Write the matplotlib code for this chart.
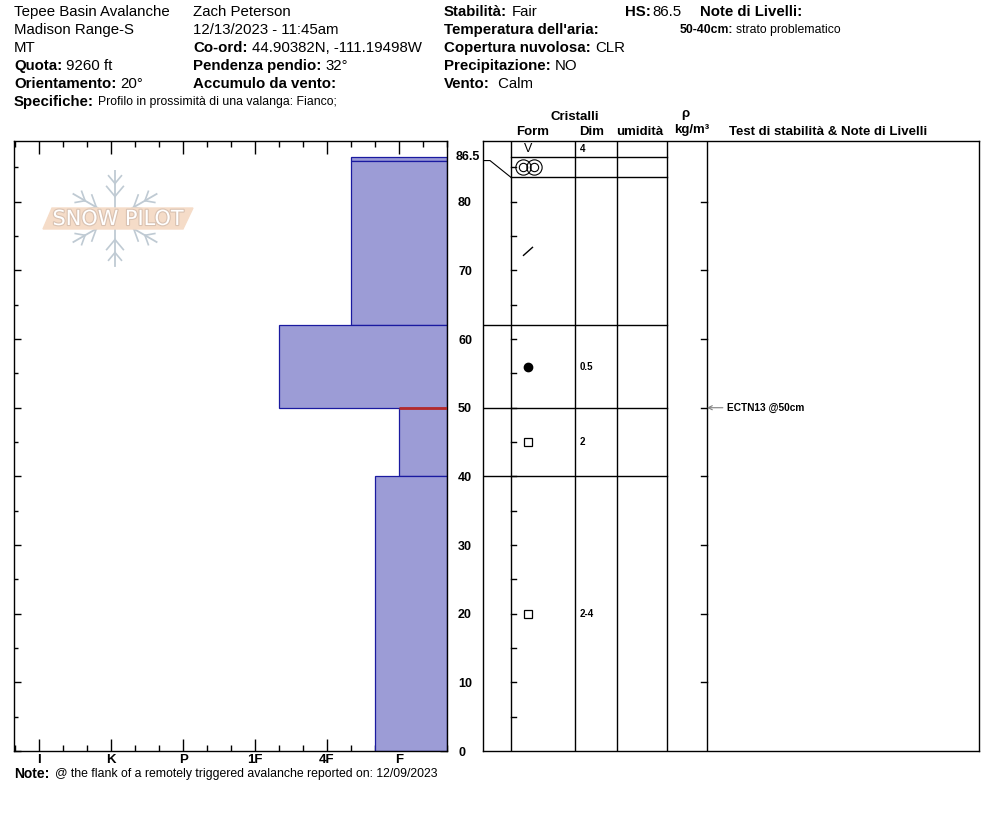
import matplotlib
matplotlib.use("Agg")
import matplotlib.pyplot as plt
import numpy as np
from matplotlib.patches import Polygon
import matplotlib.patheffects as pe

plt.rcParams["font.family"] = ["Liberation Sans", "DejaVu Sans"]

# --- snow layers (depth in cm, hardness F=1 ... I=6) ---
layer_top = [86.5, 86.0, 62.0, 50.0, 40.0]
layer_bottom = [86.0, 62.0, 50.0, 40.0, 0.0]
layer_hardness = [1.67, 1.67, 2.67, 1.0, 1.33]
hardness_labels = ["I", "K", "P", "1F", "4F", "F"]
hardness_values = [6, 5, 4, 3, 2, 1]
problem_depth = 50.0
snow_height = 86.5

# --- crystal table rows (drawn positions in cm) ---
table_bounds = [86.5, 83.55, 62.0, 50.0, 40.0, 0.0]
grain_forms = ["SH", "MFcr", "DF", "RG", "FC", "FC"]
grain_sizes = ["4", "", "", "0.5", "2", "2-4"]

# --- stability tests ---
test_depths = [50.0]
test_labels = ["ECTN13 @50cm"]

W, H = 994, 840


def fx(px):
    return px / W


def fy(py):
    return 1 - py / H


fig = plt.figure(figsize=(W / 100, H / 100), dpi=100)

Y_TOP = 88.85
H_RIGHT = 1 / 3
H_LEFT = 6.35

# === Left: hardness profile ===
ax = fig.add_axes([fx(14), fy(751), (447 - 14) / W, (751 - 141) / H])
ax.set_xlim(H_LEFT, H_RIGHT)
ax.set_ylim(0, Y_TOP)

for top, bot, hd in zip(layer_top, layer_bottom, layer_hardness):
    ax.barh(bot, hd - H_RIGHT, left=H_RIGHT, height=top - bot, align="edge",
            color="#9c9cd6", edgecolor="#1a1aa0", linewidth=0.9, zorder=2)

# problem layer marker
idx = layer_top.index(problem_depth)
ax.plot([H_RIGHT, layer_hardness[idx]], [problem_depth, problem_depth],
        color="#b52a2a", linewidth=2, zorder=3, solid_capstyle="butt")

ax.set_xticks(hardness_values)
ax.set_xticklabels(hardness_labels, fontsize=9.5, fontweight="bold")
ax.set_xticks(np.arange(H_RIGHT, H_LEFT, 1 / 3), minor=True)
ax.set_yticks(np.arange(0, 81, 10))
ax.set_yticks(np.arange(5, 90, 10), minor=True)
ax.tick_params(axis="x", which="major", direction="in", length=9, width=1,
               top=True, bottom=True, pad=2)
ax.tick_params(axis="x", which="minor", direction="in", length=4, width=1,
               top=True, bottom=True)
ax.tick_params(axis="y", which="major", direction="in", length=5, width=1,
               left=True, right=True, labelleft=False, labelright=True, pad=8)
ax.tick_params(axis="y", which="minor", direction="in", length=3, width=1,
               left=True, right=True)
for lab in ax.get_yticklabels():
    lab.set_fontweight("bold")
    lab.set_fontsize(9)
ax.text(1 + 9 / 433, snow_height, "%.1f" % snow_height,
        transform=ax.get_yaxis_transform(), fontsize=9, fontweight="bold",
        ha="left", va="center", clip_on=False)
for s in ax.spines.values():
    s.set_linewidth(1)

# === Logo ===
axl = fig.add_axes([fx(36), fy(270), 160 / W, 100 / H])
axl.set_xlim(36, 196)
axl.set_ylim(270, 170)
axl.axis("off")
cx, cy, arm = 115, 218, 48
flake = "#bfcad3"
for a in [30, 90, 150, 210, 270, 330]:
    d = np.array([np.cos(np.radians(a)), -np.sin(np.radians(a))])
    axl.plot([cx, cx + d[0] * arm], [cy, cy + d[1] * arm], color=flake, lw=1.3)
    for t, ln in [(0.45, 13), (0.72, 10)]:
        p = np.array([cx, cy]) + d * arm * t
        for sgn in (1, -1):
            b = np.radians(a + sgn * 40)
            q = p + np.array([np.cos(b), -np.sin(b)]) * ln
            axl.plot([p[0], q[0]], [p[1], q[1]], color=flake, lw=1.2)
axl.add_patch(Polygon([(43, 229), (52, 208), (193, 208), (183, 229)],
                      closed=True, color="#f5dcc8", zorder=3))
axl.text(118, 219, "SNOW PILOT", fontsize=15, family="DejaVu Sans", color="white",
         ha="center", va="center", zorder=4,
         path_effects=[pe.withStroke(linewidth=1.6, foreground="#d9c2b2")])

# === Right: crystal table ===
axr = fig.add_axes([fx(483), fy(751), (979 - 483) / W, (751 - 141) / H])
axr.set_xlim(0, 496)
axr.set_ylim(0, Y_TOP)
axr.set_xticks([])
axr.set_yticks([])
for s in axr.spines.values():
    s.set_linewidth(1)

cols = [28, 92, 134, 184, 224]
for c in cols:
    axr.axvline(c, color="black", lw=1)
for b in table_bounds[:-1]:
    x0 = 28 if b > 80 else 0
    axr.plot([x0, 184], [b, b], color="black", lw=1)
axr.plot([0, 7, 28], [layer_bottom[0], layer_bottom[0], table_bounds[1]],
         color="black", lw=0.8)

for d in range(5, 90, 5):
    axr.plot([28, 33], [d, d], color="black", lw=1)
for d in range(10, 90, 10):
    axr.plot([218, 224], [d, d], color="black", lw=1)

cm_px = Y_TOP / 610
row_tops = [Y_TOP] + table_bounds[:-1]
for top, bot, form, size in zip(row_tops, table_bounds, grain_forms, grain_sizes):
    yc = (top + bot) / 2
    xs = 45
    if form == "SH":
        axr.text(xs, yc, "V", fontsize=9, ha="center", va="center")
    elif form == "MFcr":
        axr.plot([xs - 5, xs + 6], [yc, yc], "o", mfc="none", mec="black", ms=11, mew=0.8)
        axr.plot([xs - 5, xs + 6], [yc, yc], "o", mfc="none", mec="black", ms=6, mew=0.8)
    elif form == "DF":
        axr.plot([xs - 4.5, xs + 4.5], [yc - 4 * cm_px, yc + 4 * cm_px], color="black", lw=1)
    elif form == "RG":
        axr.plot([xs], [yc], "o", color="black", ms=6)
    elif form == "FC":
        axr.plot([xs], [yc], "s", mfc="none", mec="black", ms=6, mew=0.9)
    if size:
        axr.text(97, yc, size, fontsize=7, fontweight="bold", ha="left", va="center")

for d, lab in zip(test_depths, test_labels):
    axr.annotate(lab, xy=(224, d), xytext=(244, d), fontsize=7.3, fontweight="bold",
                 ha="left", va="center",
                 arrowprops=dict(arrowstyle="->", color="gray", lw=0.8,
                                 shrinkA=1, shrinkB=0))

# column headers
hdr = dict(fontsize=9.5, fontweight="bold", ha="center", va="center")
fig.text(fx(575), fy(117), "Cristalli", **hdr)
fig.text(fx(533), fy(132), "Form", **hdr)
fig.text(fx(592), fy(132), "Dim", **hdr)
fig.text(fx(640), fy(132), "umidità", **hdr)
fig.text(fx(685), fy(114), "ρ", **hdr)
fig.text(fx(692), fy(130), "kg/m³", **hdr)
fig.text(fx(828), fy(132), "Test di stabilità & Note di Livelli", **hdr)


# === Header fields ===
def plain(x, y, s, size=10.8):
    fig.text(fx(x), fy(y), s, fontsize=size, ha="left", va="center")


def field(x, y, label, value="", size=10.8, vsize=None, gap=3):
    t = fig.text(fx(x), fy(y), label, fontsize=size, fontweight="bold",
                 ha="left", va="center")
    if value:
        ax.annotate(value, xy=(1, 0.5), xycoords=t, xytext=(gap, 0),
                    textcoords="offset points", fontsize=vsize or size,
                    ha="left", va="center", annotation_clip=False)


plain(14, 12, "Tepee Basin Avalanche")
plain(193, 12, "Zach Peterson")
plain(14, 30, "Madison Range-S")
plain(193, 30, "12/13/2023 - 11:45am")
plain(14, 48, "MT")
field(193, 48, "Co-ord:", "44.90382N, -111.19498W")
field(14, 66, "Quota:", "9260 ft")
field(193, 66, "Pendenza pendio:", "32°")
field(14, 84, "Orientamento:", "20°")
field(193, 84, "Accumulo da vento:")
field(14, 102, "Specifiche:", "Profilo in prossimità di una valanga: Fianco;", vsize=8.8)
field(444, 12, "Stabilità:", "Fair")
field(625, 12, "HS:", "86.5", gap=1)
field(700, 12, "Note di Livelli:")
field(444, 30, "Temperatura dell'aria:")
field(680, 30, "50-40cm:", "strato problematico", size=8.8, gap=2)
field(444, 48, "Copertura nuvolosa:", "CLR")
field(444, 66, "Precipitazione:", "NO")
field(444, 84, "Vento:", " Calm")
field(14, 774, "Note:", "@ the flank of a remotely triggered avalanche reported on: 12/09/2023",
      size=10, vsize=8.8, gap=4)

fig.savefig("out.png", dpi=100)
